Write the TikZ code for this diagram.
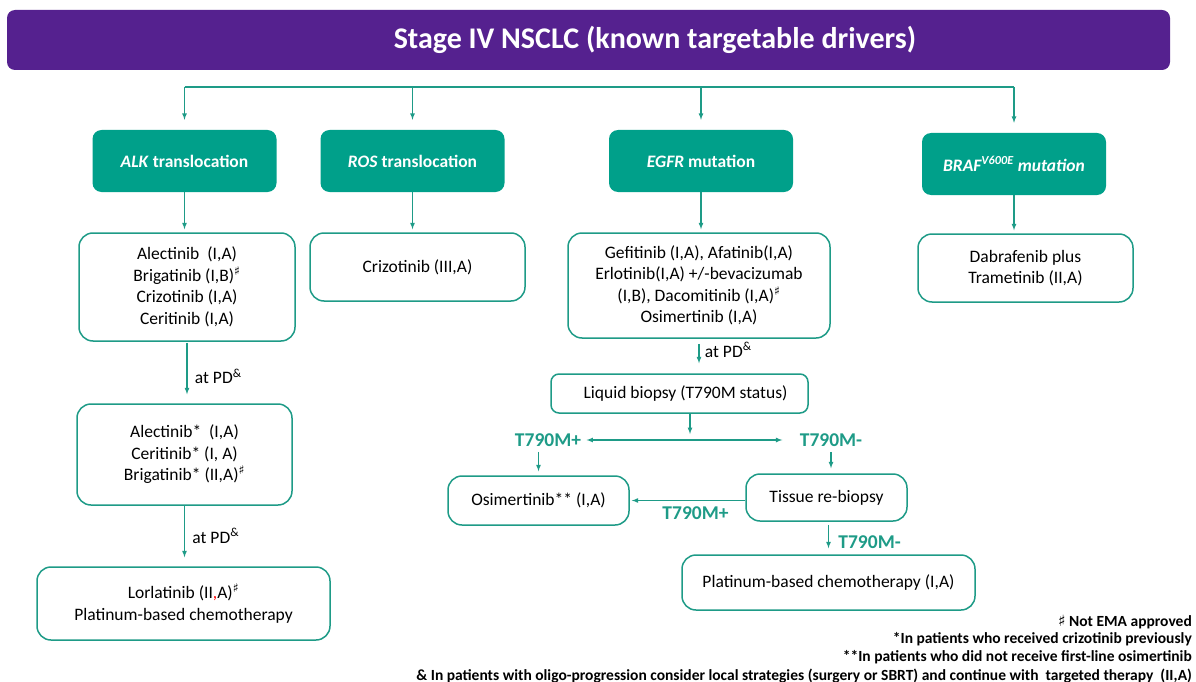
\documentclass[tikz,border=0pt]{standalone}
\usepackage{fontspec}
\setmainfont{Carlito}
\newfontfamily\symf{DejaVu Sans}
\usepackage{tikz}
\usetikzlibrary{shapes,arrows,positioning}
\definecolor{esmopurple}{RGB}{85,33,143}
\definecolor{esmoteal}{RGB}{0,160,138}
\definecolor{linkteal}{RGB}{30,155,135}
\newcommand{\shp}{\textsuperscript{\symf\char"266F}}
\newcommand{\atpd}{at PD\textsuperscript{\&}}
\tikzstyle{head}=[rectangle,fill=esmopurple,rounded corners=8pt,minimum width=1163pt,minimum height=60pt,inner sep=0pt]
\tikzstyle{drv}=[rectangle,fill=esmoteal,rounded corners=9pt,text=white,align=center,minimum width=184pt,minimum height=62pt,font=\fontsize{17.5}{20}\selectfont\bfseries]
\tikzstyle{trt}=[rectangle,draw=linkteal,line width=1.5pt,rounded corners=14pt,fill=white,align=center,font=\fontsize{17.5}{21.5}\selectfont]
\tikzstyle{arr}=[-latex,line width=1.2pt,draw=linkteal]
\tikzstyle{lbl}=[font=\fontsize{19.5}{22}\selectfont\bfseries,text=linkteal]
\tikzstyle{pd}=[font=\fontsize{17.5}{20}\selectfont]
\tikzstyle{note}=[anchor=east,font=\fontsize{15.5}{16}\selectfont\bfseries,inner sep=0pt]

\begin{document}
\begin{tikzpicture}[x=1pt,y=-1pt]
\useasboundingbox (0,0) rectangle (1196,682);
\node[head] (bar) at (588.5,40) {};
\node[font=\fontsize{30}{34}\selectfont\bfseries,text=white] (title) at (655,40) {Stage IV NSCLC (known targetable drivers)};
\node[drv] (alk) at (184.5,161) {\textit{ALK} translocation};
\node[drv] (ros) at (412.5,161) {\textit{ROS} translocation};
\node[drv] (egfr) at (701,161) {\textit{EGFR} mutation};
\node[drv] (braf) at (1014,164) {\textit{BRAF\textsuperscript{V600E} mutation}};
\node[trt,minimum width=216pt,minimum height=108pt] (alk1) at (187,287) {Alectinib\ \ (I,A)\\Brigatinib (I,B)\shp\\Crizotinib (I,A)\\Ceritinib (I,A)};
\node[trt,minimum width=215pt,minimum height=68pt] (ros1) at (417.5,267) {Crizotinib (III,A)};
\node[trt,minimum width=262pt,minimum height=105pt] (egfr1) at (699,285.5) {Gefitinib (I,A), Afatinib(I,A)\\Erlotinib(I,A) +/-bevacizumab\\(I,B), Dacomitinib (I,A)\shp\\Osimertinib (I,A)};
\node[trt,minimum width=215pt,minimum height=68pt] (braf1) at (1025.5,268) {Dabrafenib plus\\Trametinib (II,A)};
\node[trt,minimum width=215pt,minimum height=101pt] (alk2) at (184.5,454.5) {Alectinib*\ \ (I,A)\\Ceritinib* (I, A)\\Brigatinib* (II,A)\shp};
\node[trt,minimum width=293pt,minimum height=73pt] (alk3) at (183.5,603.5) {Lorlatinib (II{\color{red},}A)\shp\\Platinum-based chemotherapy};
\node[trt,rounded corners=8pt,minimum width=257pt,minimum height=39pt] (liq) at (679.5,393.5) {\hspace*{12pt}Liquid biopsy (T790M status)};
\node[lbl] (pos) at (548,440) {T790M+};
\node[lbl] (neg) at (831,440) {T790M-};
\node[trt,minimum width=181pt,minimum height=49pt] (osi) at (538.5,500.5) {Osimertinib** (I,A)};
\node[trt,minimum width=161pt,minimum height=47pt] (tis) at (826.5,497.5) {Tissue re-biopsy};
\node[trt,minimum width=293pt,minimum height=55pt] (plat) at (828.5,582.5) {Platinum-based chemotherapy (I,A)};
\node[note] (fn1) at (1192,622) {{\symf\bfseries\char"266F} Not EMA approved};
\node[note] (fn2) at (1192,639) {*In patients who received crizotinib previously};
\node[note] (fn3) at (1192,657) {**In patients who did not receive first-line osimertinib};
\node[note] (fn4) at (1192,676) {\& In patients with oligo-progression consider local strategies (surgery or SBRT) and continue with\ \ targeted therapy\ \ (II,A)};
\coordinate (hl) at (0,87);
\coordinate (split) at (690,440);
\path[draw=linkteal,line width=1.2pt] (alk |- hl) -- (braf |- hl);
\path[arr,shorten >=10pt] (alk |- hl) -- (alk.north);
\path[arr,shorten >=10pt] (ros |- hl) -- (ros.north);
\path[arr,shorten >=10pt] (egfr |- hl) -- (egfr.north);
\path[arr,shorten >=10pt] (braf |- hl) -- (braf.north);
\path[arr,shorten >=3pt] (alk.south) -- (alk.south |- alk1.north);
\path[arr,shorten >=3pt] (ros.south) -- (ros.south |- ros1.north);
\path[arr,shorten >=3pt] (egfr.south) -- (egfr.south |- egfr1.north);
\path[arr,shorten >=3pt] (braf.south) -- (braf.south |- braf1.north);
\path[arr,shorten <=1pt,shorten >=9pt] (alk1.south) -- node[pd,right,xshift=4pt,yshift=-4pt] {\atpd} (alk1.south |- alk2.north);
\path[arr,shorten >=9pt] (alk2.south) -- node[pd,right,xshift=4pt] {\atpd} (alk2.south |- alk3.north);
\path[arr,shorten <=5pt,shorten >=10pt] (egfr1.south) -- node[pd,right,xshift=2pt,yshift=6pt] {\atpd} (egfr1.south |- liq.north);
\path[arr,shorten >=6pt] (liq.south -| split) -- (split);
\path[arr,latex-latex,shorten <=2pt,shorten >=14pt] (pos.east) -- (neg.west);
\path[arr,shorten <=2pt,shorten >=4pt] (pos.south -| osi.north) -- (osi.north);
\path[arr,shorten <=2pt,shorten >=5pt] (neg.south) -- (neg.south |- tis.north);
\path[arr,shorten >=2pt] (tis.west |- osi) -- node[lbl,below=2pt,xshift=8pt] {T790M+} (osi.east);
\path[arr,shorten <=3pt,shorten >=6pt] (tis.south -| plat.north) -- node[lbl,right,xshift=6pt,yshift=-4pt] {T790M-} (plat.north);
\end{tikzpicture}
\end{document}
